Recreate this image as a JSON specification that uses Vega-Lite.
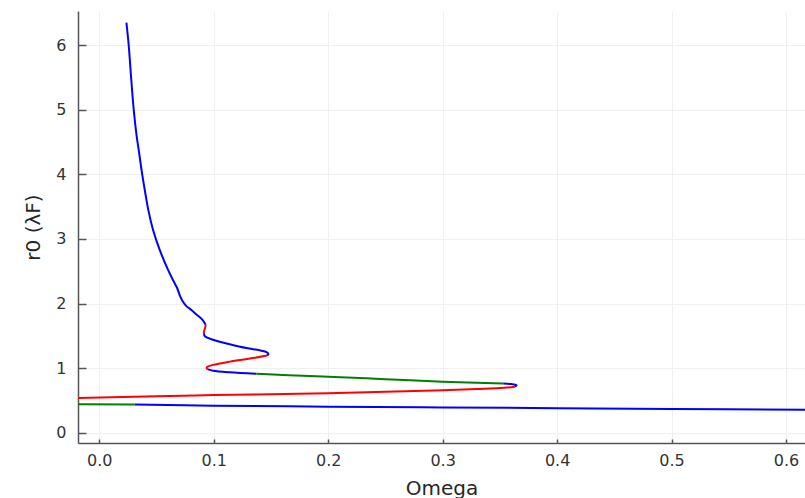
{
  "$schema": "https://vega.github.io/schema/vega-lite/v6.json",
  "width": 727,
  "height": 432,
  "autosize": "none",
  "padding": {"left": 78, "top": 11, "right": 0, "bottom": 55},
  "background": "white",
  "config": {
    "view": {"stroke": null},
    "axis": {
      "domainColor": "#555555",
      "domainWidth": 1.5,
      "tickColor": "#555555",
      "tickWidth": 1.5,
      "gridColor": "#f0f0f0",
      "gridWidth": 1,
      "labelFont": "DejaVu Sans",
      "labelFontSize": 16,
      "labelColor": "#333333",
      "titleFont": "DejaVu Sans",
      "titleFontSize": 20,
      "titleFontWeight": "normal",
      "titleColor": "#262626"
    }
  },
  "data": {
    "values": [
      {"seg": 1, "stab": "blue", "i": 1, "omega": 0.0237, "r0": 6.35},
      {"seg": 1, "stab": "blue", "i": 2, "omega": 0.0257, "r0": 6.0},
      {"seg": 1, "stab": "blue", "i": 3, "omega": 0.0278, "r0": 5.5},
      {"seg": 1, "stab": "blue", "i": 4, "omega": 0.0301, "r0": 5.0},
      {"seg": 1, "stab": "blue", "i": 5, "omega": 0.0326, "r0": 4.6},
      {"seg": 1, "stab": "blue", "i": 6, "omega": 0.0345, "r0": 4.37},
      {"seg": 1, "stab": "blue", "i": 7, "omega": 0.0375, "r0": 4.0},
      {"seg": 1, "stab": "blue", "i": 8, "omega": 0.0403, "r0": 3.7},
      {"seg": 1, "stab": "blue", "i": 9, "omega": 0.0428, "r0": 3.45},
      {"seg": 1, "stab": "blue", "i": 10, "omega": 0.047, "r0": 3.14},
      {"seg": 1, "stab": "blue", "i": 11, "omega": 0.0528, "r0": 2.83},
      {"seg": 1, "stab": "blue", "i": 12, "omega": 0.0601, "r0": 2.52},
      {"seg": 1, "stab": "blue", "i": 13, "omega": 0.0645, "r0": 2.36},
      {"seg": 1, "stab": "blue", "i": 14, "omega": 0.068, "r0": 2.24},
      {"seg": 1, "stab": "blue", "i": 15, "omega": 0.0705, "r0": 2.12},
      {"seg": 1, "stab": "blue", "i": 16, "omega": 0.073, "r0": 2.03},
      {"seg": 1, "stab": "blue", "i": 17, "omega": 0.0761, "r0": 1.96},
      {"seg": 1, "stab": "blue", "i": 18, "omega": 0.0805, "r0": 1.9},
      {"seg": 1, "stab": "blue", "i": 19, "omega": 0.085, "r0": 1.83},
      {"seg": 1, "stab": "blue", "i": 20, "omega": 0.09, "r0": 1.75},
      {"seg": 1, "stab": "blue", "i": 21, "omega": 0.093, "r0": 1.67},
      {"seg": 2, "stab": "red", "i": 22, "omega": 0.093, "r0": 1.67},
      {"seg": 2, "stab": "red", "i": 23, "omega": 0.0924, "r0": 1.62},
      {"seg": 2, "stab": "red", "i": 24, "omega": 0.0917, "r0": 1.58},
      {"seg": 2, "stab": "red", "i": 25, "omega": 0.0913, "r0": 1.54},
      {"seg": 3, "stab": "blue", "i": 26, "omega": 0.0913, "r0": 1.54},
      {"seg": 3, "stab": "blue", "i": 27, "omega": 0.0925, "r0": 1.49},
      {"seg": 3, "stab": "blue", "i": 28, "omega": 0.0994, "r0": 1.44},
      {"seg": 3, "stab": "blue", "i": 29, "omega": 0.114, "r0": 1.37},
      {"seg": 3, "stab": "blue", "i": 30, "omega": 0.1286, "r0": 1.31},
      {"seg": 3, "stab": "blue", "i": 31, "omega": 0.14, "r0": 1.275},
      {"seg": 3, "stab": "blue", "i": 32, "omega": 0.1465, "r0": 1.245},
      {"seg": 3, "stab": "blue", "i": 33, "omega": 0.1478, "r0": 1.22},
      {"seg": 3, "stab": "blue", "i": 34, "omega": 0.1465, "r0": 1.195},
      {"seg": 4, "stab": "red", "i": 35, "omega": 0.1465, "r0": 1.195},
      {"seg": 4, "stab": "red", "i": 36, "omega": 0.1344, "r0": 1.155},
      {"seg": 4, "stab": "red", "i": 37, "omega": 0.114, "r0": 1.1},
      {"seg": 4, "stab": "red", "i": 38, "omega": 0.0994, "r0": 1.05},
      {"seg": 4, "stab": "red", "i": 39, "omega": 0.0945, "r0": 1.02},
      {"seg": 4, "stab": "red", "i": 40, "omega": 0.0938, "r0": 1.0},
      {"seg": 4, "stab": "red", "i": 41, "omega": 0.095, "r0": 0.98},
      {"seg": 5, "stab": "blue", "i": 42, "omega": 0.095, "r0": 0.98},
      {"seg": 5, "stab": "blue", "i": 43, "omega": 0.0994, "r0": 0.96},
      {"seg": 5, "stab": "blue", "i": 44, "omega": 0.114, "r0": 0.935},
      {"seg": 5, "stab": "blue", "i": 45, "omega": 0.1373, "r0": 0.912},
      {"seg": 6, "stab": "green", "i": 46, "omega": 0.1373, "r0": 0.912},
      {"seg": 6, "stab": "green", "i": 47, "omega": 0.16, "r0": 0.893},
      {"seg": 6, "stab": "green", "i": 48, "omega": 0.2, "r0": 0.866},
      {"seg": 6, "stab": "green", "i": 49, "omega": 0.25, "r0": 0.828},
      {"seg": 6, "stab": "green", "i": 50, "omega": 0.3, "r0": 0.79},
      {"seg": 6, "stab": "green", "i": 51, "omega": 0.353, "r0": 0.76},
      {"seg": 7, "stab": "blue", "i": 52, "omega": 0.353, "r0": 0.76},
      {"seg": 7, "stab": "blue", "i": 53, "omega": 0.36, "r0": 0.752},
      {"seg": 7, "stab": "blue", "i": 54, "omega": 0.3646, "r0": 0.733},
      {"seg": 7, "stab": "blue", "i": 55, "omega": 0.3631, "r0": 0.712},
      {"seg": 8, "stab": "red", "i": 56, "omega": 0.3631, "r0": 0.712},
      {"seg": 8, "stab": "red", "i": 57, "omega": 0.35, "r0": 0.69},
      {"seg": 8, "stab": "red", "i": 58, "omega": 0.33, "r0": 0.676},
      {"seg": 8, "stab": "red", "i": 59, "omega": 0.3, "r0": 0.658},
      {"seg": 8, "stab": "red", "i": 60, "omega": 0.25, "r0": 0.632},
      {"seg": 8, "stab": "red", "i": 61, "omega": 0.2, "r0": 0.612},
      {"seg": 8, "stab": "red", "i": 62, "omega": 0.15, "r0": 0.596},
      {"seg": 8, "stab": "red", "i": 63, "omega": 0.1, "r0": 0.582},
      {"seg": 8, "stab": "red", "i": 64, "omega": 0.05, "r0": 0.563},
      {"seg": 8, "stab": "red", "i": 65, "omega": -0.0186, "r0": 0.535},
      {"seg": 9, "stab": "green", "i": 66, "omega": -0.0186, "r0": 0.442},
      {"seg": 9, "stab": "green", "i": 67, "omega": 0.031, "r0": 0.436},
      {"seg": 10, "stab": "blue", "i": 68, "omega": 0.031, "r0": 0.436},
      {"seg": 10, "stab": "blue", "i": 69, "omega": 0.1, "r0": 0.418},
      {"seg": 10, "stab": "blue", "i": 70, "omega": 0.2, "r0": 0.403},
      {"seg": 10, "stab": "blue", "i": 71, "omega": 0.3, "r0": 0.391},
      {"seg": 10, "stab": "blue", "i": 72, "omega": 0.4, "r0": 0.38},
      {"seg": 10, "stab": "blue", "i": 73, "omega": 0.5, "r0": 0.367},
      {"seg": 10, "stab": "blue", "i": 74, "omega": 0.6166, "r0": 0.354}
    ]
  },
  "mark": {"type": "line", "strokeWidth": 2, "clip": true, "strokeJoin": "round", "interpolate": "catmull-rom"},
  "encoding": {
    "x": {
      "field": "omega",
      "type": "quantitative",
      "scale": {"domain": [-0.0186, 0.6166], "nice": false, "zero": false},
      "axis": {
        "title": "Omega",
        "values": [0, 0.1, 0.2, 0.3, 0.4, 0.5, 0.6],
        "format": ".1f",
        "tickSize": -4,
        "labelPadding": 13,
        "titlePadding": 10
      }
    },
    "y": {
      "field": "r0",
      "type": "quantitative",
      "scale": {"domain": [-0.16, 6.53], "nice": false, "zero": false},
      "axis": {
        "title": "r0 (λF)",
        "values": [0, 1, 2, 3, 4, 5, 6],
        "format": "d",
        "tickSize": -8,
        "labelPadding": 20,
        "titlePadding": 12
      }
    },
    "color": {
      "field": "stab",
      "type": "nominal",
      "scale": {"domain": ["red", "green", "blue"], "range": ["#ff0000", "#008000", "#0000ff"]},
      "legend": null
    },
    "detail": {"field": "seg", "type": "nominal"},
    "order": {"field": "i", "type": "quantitative"}
  }
}
